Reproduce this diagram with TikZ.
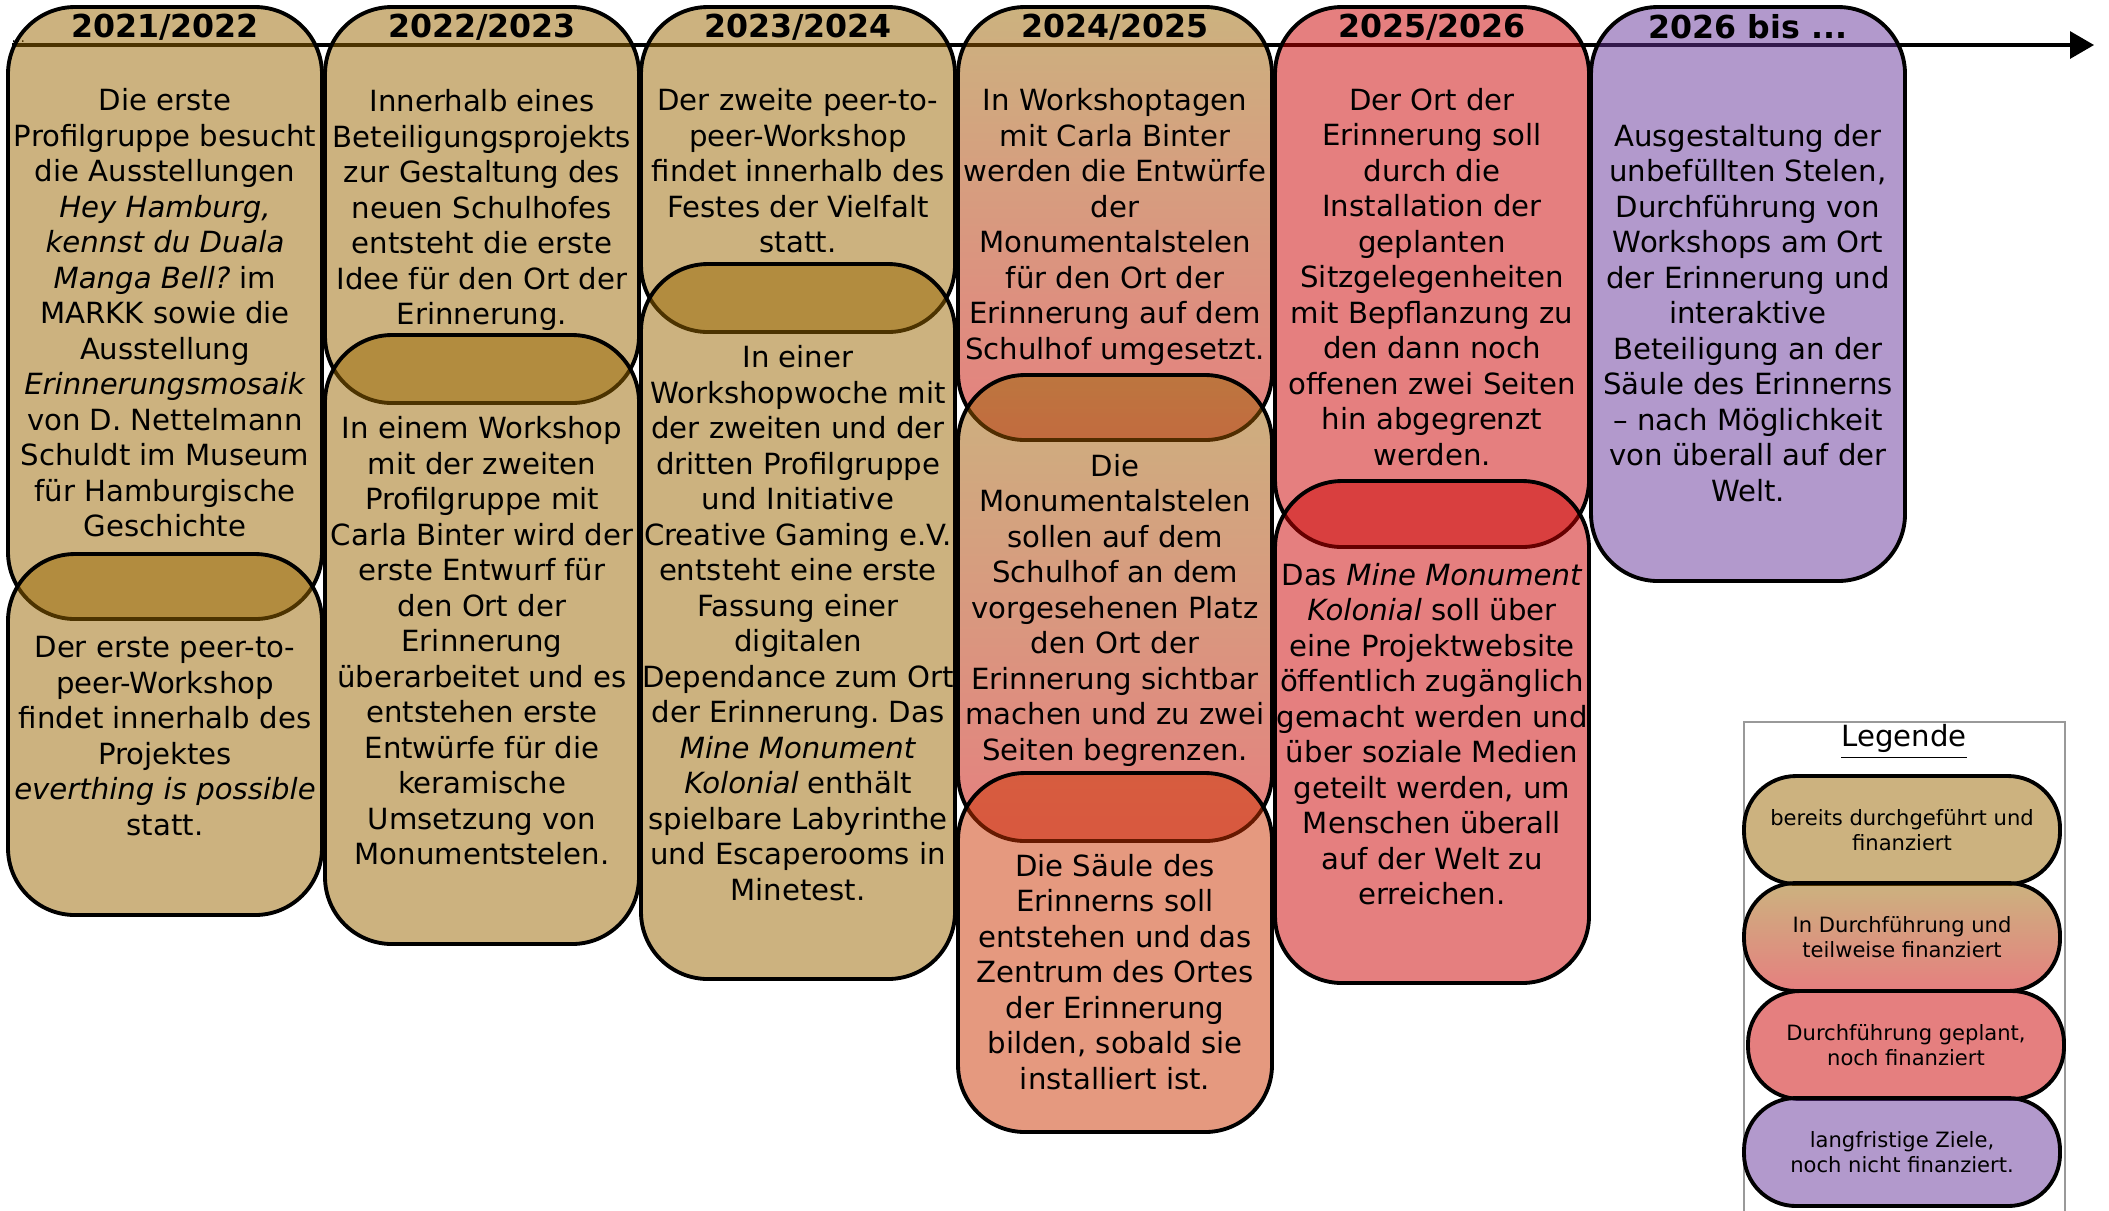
\documentclass[tikz,border=0pt]{standalone}
\usepackage{fontspec}
\setmainfont{DejaVu Sans}
\usetikzlibrary{arrows.meta}
\frenchspacing

\definecolor{doneC}{HTML}{996600}
\definecolor{planC}{HTML}{CC0000}
\definecolor{nextC}{HTML}{CC3300}
\definecolor{goalC}{HTML}{663399}
\definecolor{legC}{HTML}{999999}

\tikzset{
  phase/.style={draw=black, line width=1.1pt, rounded corners=6.7mm, fill opacity=0.5},
  done/.style={phase, fill=doneC},
  plan/.style={phase, fill=planC},
  next/.style={phase, fill=nextC},
  goal/.style={phase, fill=goalC},
  running/.style={phase, top color=doneC, bottom color=planC},
  txt/.style={align=center, inner sep=0pt, font=\fontsize{8.3}{10.1}\selectfont},
  year/.style={inner sep=0pt, font=\fontsize{9}{10}\selectfont\bfseries},
  legitem/.style={draw=black, line width=1.1pt, rounded corners=5.2mm, fill opacity=0.5,
    text opacity=1, minimum width=31.6mm, minimum height=10.8mm, inner sep=0pt,
    align=center, font=\fontsize{6}{7.3}\selectfont},
}

\begin{document}
\begin{tikzpicture}[x=0.1mm, y=-0.1mm]
  \useasboundingbox (0,0) rectangle (2109,1210);

  % Zeitachse
  \coordinate (tl) at (12,45);
  \coordinate (tr) at (2094,45);
  \draw[line width=0.9pt, -{Triangle[length=2.4mm, width=2.7mm]}] (tl) -- (tr);
  \node[inner sep=0pt, anchor=south west, font=\fontsize{4}{4}\selectfont] (dots) at (11,44) {...};

  % 2021/2022
  \draw[done] (8,7) rectangle (322,619);
  \draw[done] (8,554) rectangle (322,915);
  % 2022/2023
  \draw[done] (325,7) rectangle (639,403);
  \draw[done] (325,335) rectangle (639,944);
  % 2023/2024
  \draw[done] (641,7) rectangle (955,332);
  \draw[done] (641,264) rectangle (955,979);
  % 2024/2025
  \draw[running] (958,7) rectangle (1272,440);
  \draw[running] (958,375) rectangle (1272,841);
  \draw[next] (958,773) rectangle (1272,1132);
  % 2025/2026
  \draw[plan] (1275,7) rectangle (1589,547);
  \draw[plan] (1275,481) rectangle (1589,983);
  % 2026 bis ...
  \draw[goal] (1591,7) rectangle (1905,581);

  % Jahre
  \node[year] (y1) at (165,27) {2021/2022};
  \node[year] (y2) at (482,27) {2022/2023};
  \node[year] (y3) at (798,27) {2023/2024};
  \node[year] (y4) at (1115,27) {2024/2025};
  \node[year] (y5) at (1432,27) {2025/2026};
  \node[year] (y6) at (1748,27) {2026 bis ...};

  % Texte
  \node[txt] (t11) at (165,313) {Die erste\\Profilgruppe besucht\\die Ausstellungen\\\textit{Hey Hamburg,}\\\textit{kennst du Duala}\\\textit{Manga Bell?} im\\MARKK sowie die\\Ausstellung\\\textit{Erinnerungsmosaik}\\von D. Nettelmann\\Schuldt im Museum\\für Hamburgische\\Geschichte};
  \node[txt] (t12) at (165,736) {Der erste peer-to-\\peer-Workshop\\findet innerhalb des\\Projektes\\\textit{everthing is possible}\\statt.};
  \node[txt] (t21) at (482,210) {Innerhalb eines\\Beteiligungsprojekts\\zur Gestaltung des\\neuen Schulhofes\\entsteht die erste\\Idee für den Ort der\\Erinnerung.};
  \node[txt] (t22) at (482,641) {In einem Workshop\\mit der zweiten\\Profilgruppe mit\\Carla Binter wird der\\erste Entwurf für\\den Ort der\\Erinnerung\\überarbeitet und es\\entstehen erste\\Entwürfe für die\\keramische\\Umsetzung von\\Monumentstelen.};
  \node[txt] (t31) at (798,171) {Der zweite peer-to-\\peer-Workshop\\findet innerhalb des\\Festes der Vielfalt\\statt.};
  \node[txt] (t32) at (798,623) {In einer\\Workshopwoche mit\\der zweiten und der\\dritten Profilgruppe\\und Initiative\\Creative Gaming e.V.\\entsteht eine erste\\Fassung einer\\digitalen\\Dependance zum Ort\\der Erinnerung. Das\\\textit{Mine Monument}\\\textit{Kolonial} enthält\\spielbare Labyrinthe\\und Escaperooms in\\Minetest.};
  \node[txt] (t41) at (1115,227) {In Workshoptagen\\mit Carla Binter\\werden die Entwürfe\\der\\Monumentalstelen\\für den Ort der\\Erinnerung auf dem\\Schulhof umgesetzt.};
  \node[txt] (t42) at (1115,610) {Die\\Monumentalstelen\\sollen auf dem\\Schulhof an dem\\vorgesehenen Platz\\den Ort der\\Erinnerung sichtbar\\machen und zu zwei\\Seiten begrenzen.};
  \node[txt] (t43) at (1115,972) {Die Säule des\\Erinnerns soll\\entstehen und das\\Zentrum des Ortes\\der Erinnerung\\bilden, sobald sie\\installiert ist.};
  \node[txt] (t51) at (1432,277) {Der Ort der\\Erinnerung soll\\durch die\\Installation der\\geplanten\\Sitzgelegenheiten\\mit Bepflanzung zu\\den dann noch\\offenen zwei Seiten\\hin abgegrenzt\\werden.};
  \node[txt] (t52) at (1432,734) {Das \textit{Mine Monument}\\\textit{Kolonial} soll über\\eine Projektwebsite\\öffentlich zugänglich\\gemacht werden und\\über soziale Medien\\geteilt werden, um\\Menschen überall\\auf der Welt zu\\erreichen.};
  \node[txt] (t61) at (1748,313) {Ausgestaltung der\\unbefüllten Stelen,\\Durchführung von\\Workshops am Ort\\der Erinnerung und\\interaktive\\Beteiligung an der\\Säule des Erinnerns\\– nach Möglichkeit\\von überall auf der\\Welt.};

  % Legende
  \draw[legC, line width=0.5pt] (1744,1230) |- (2065,722) -- (2065,1230);
  \node[txt] (leg) at (1904,742) {\underline{Legende}};
  \node[legitem, fill=doneC] (l1) at (1902,830) {bereits durchgeführt und\\finanziert};
  \node[legitem, top color=doneC, bottom color=planC] (l2) at (1902,937) {In Durchführung und\\teilweise finanziert};
  \node[legitem, fill=planC] (l3) at (1906,1045) {Durchführung geplant,\\noch finanziert};
  \node[legitem, fill=goalC] (l4) at (1902,1152) {langfristige Ziele,\\noch nicht finanziert.};
\end{tikzpicture}
\end{document}
